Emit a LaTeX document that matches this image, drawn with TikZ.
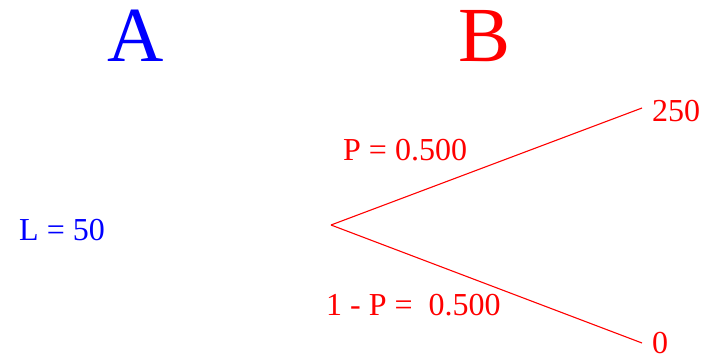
\documentclass[tikz,border=0pt]{standalone}
\usepackage{fontspec}
\setmainfont{Liberation Serif}
\definecolor{pureblue}{RGB}{0,0,255}
\definecolor{purered}{RGB}{255,0,0}

\begin{document}
\begin{tikzpicture}[x=1pt, y=-1pt,
    big/.style={font=\fontsize{78}{90}\selectfont, inner sep=0pt, anchor=base},
    val/.style={font=\fontsize{32}{38}\selectfont, inner sep=0pt, anchor=base west}]
        \useasboundingbox (0,0) rectangle (708,356);

        \node[big, pureblue] (headA) at (136,61) {A};
        \node[big, purered] (headB) at (485,61) {B};

        \node[val, pureblue] (loss) at (19,240) {L = 50};

        \coordinate (root) at (331,225);
        \coordinate (up_tip) at (642,108);
        \coordinate (down_tip) at (642,343);
        \draw[purered, line width=1.1pt] (root) -- (up_tip);
        \draw[purered, line width=1.1pt] (root) -- (down_tip);

        \node[val, purered] (probup) at (343,160) {P = 0.500};
        \node[val, purered] (probdown) at (326,315) {1 - P =\ \ 0.500};

        \node[val, purered] (payup) at (652,121) {250};
        \node[val, purered] (paydown) at (652,353) {0};

    \end{tikzpicture}
\end{document}
